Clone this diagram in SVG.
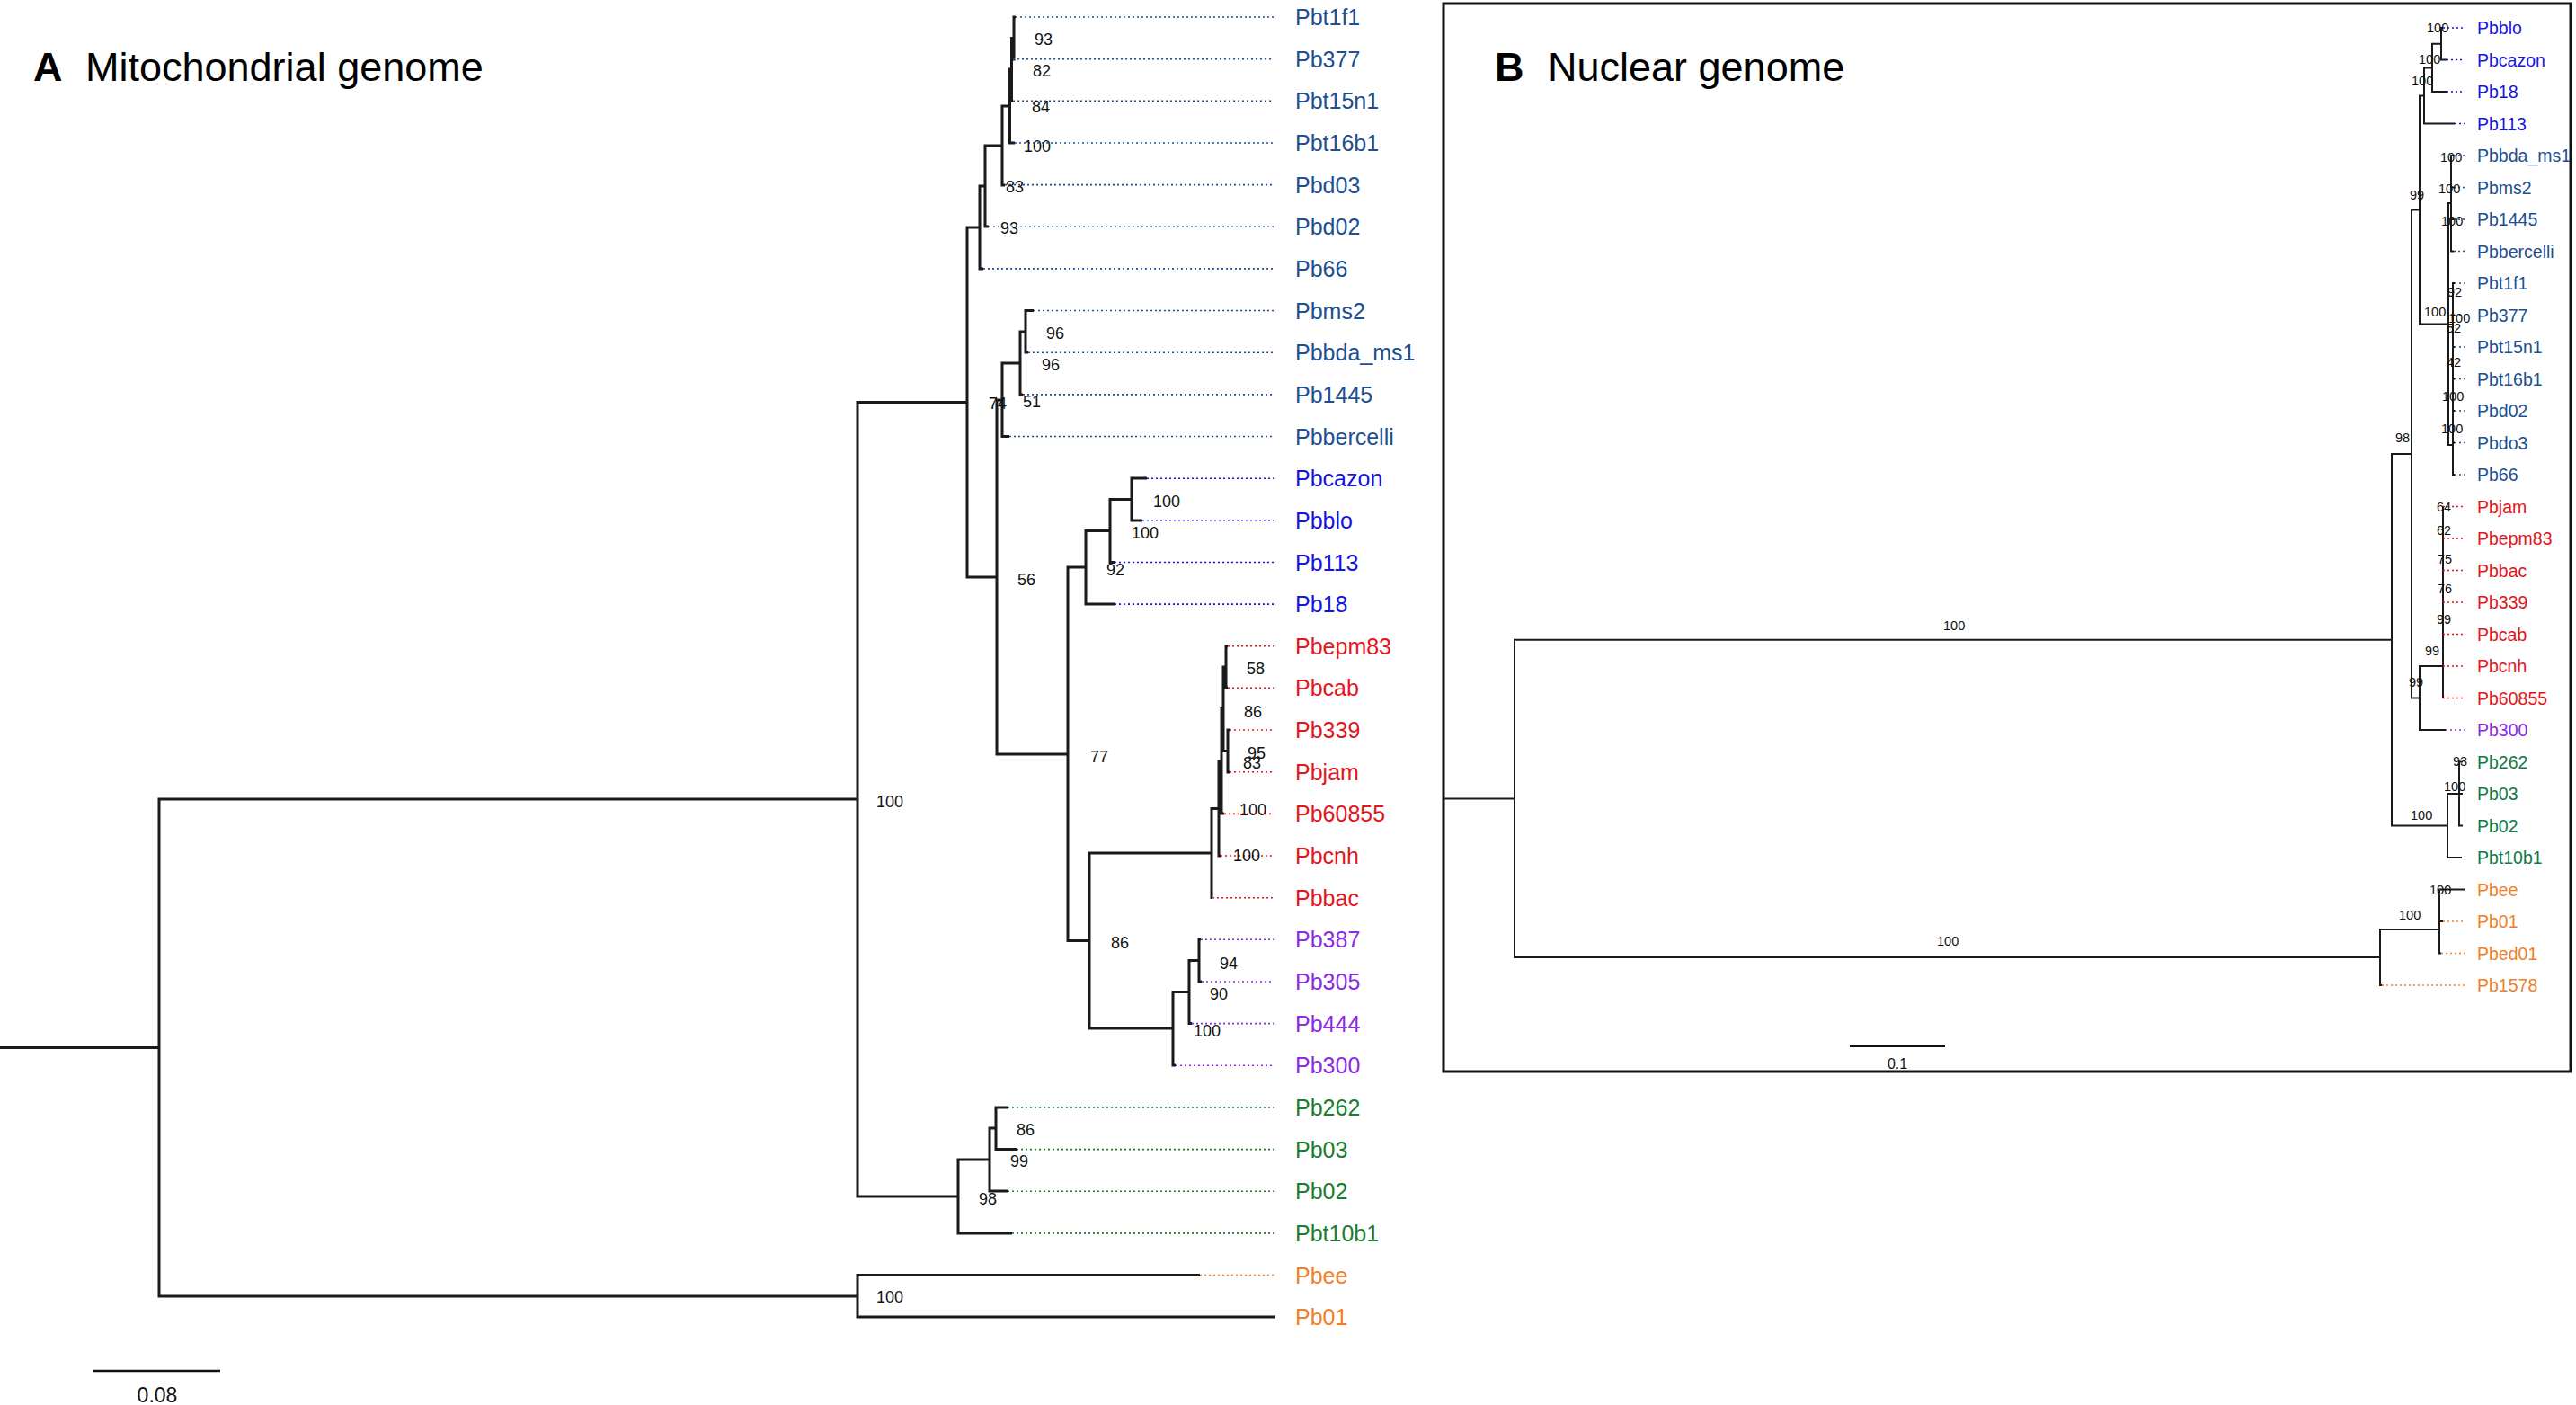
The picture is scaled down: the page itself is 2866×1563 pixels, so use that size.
<svg xmlns="http://www.w3.org/2000/svg" width="2866" height="1563" viewBox="0 0 2866 1563">
<style>
.t{fill:none;stroke:#1a1a1a;stroke-width:3;stroke-linejoin:miter}
.tb{fill:none;stroke:#1a1a1a;stroke-width:2}
.d{fill:none;stroke-width:1.6;stroke-dasharray:2 3}
.lab{font-family:"Liberation Sans",Arial,sans-serif;font-size:25px}
.labB{font-family:"Liberation Sans",Arial,sans-serif;font-size:19.5px}
.bs{font-family:"Liberation Sans",Arial,sans-serif;font-size:18px;fill:#111}
.bsB{font-family:"Liberation Sans",Arial,sans-serif;font-size:14.5px;fill:#111}
.title{font-family:"Liberation Sans",Arial,sans-serif;font-size:45px;fill:#000}
.f1{fill:#1d4f92}.f2{fill:#1515e0}.f3{fill:#e3161d}.f4{fill:#8a2be2}.f5{fill:#1a7d2e}.f5b{fill:#0f7a48}.f6{fill:#f07f2a}
.s1{stroke:#1d4f92}.s2{stroke:#1515e0}.s3{stroke:#e3161d}.s4{stroke:#8a2be2}.s5{stroke:#1a7d2e}.s6{stroke:#f07f2a}
</style>
<rect width="2866" height="1563" fill="#fff"/>

<!-- titles -->
<g id="titleA"><text class="title" x="37" y="90" font-weight="bold">A</text><text class="title" x="95" y="90">Mitochondrial genome</text></g>
<g id="titleB"><text class="title" x="1663" y="90" font-weight="bold">B</text><text class="title" x="1722" y="90">Nuclear genome</text></g>

<!-- panel B frame -->
<rect id="frameB" x="1606" y="4" width="1254" height="1188" fill="none" stroke="#111" stroke-width="3"/>

<g id="connectors">
<!-- Panel A tree -->
<path class="t" d="M1130 19 H1128 V66 H1127
M1128 42.5 H1125.5 V112 H1127
M1125.5 77 H1123.5 V159 H1129
M1123.5 118 H1115 V206 H1118
M1115 162 H1096 V252 H1100
M1096 207 H1090 V299 H1094
M1150 345.5 H1141 V392 H1144
M1141 369 H1135 V439 H1138
M1135 404 H1115 V485.5 H1123
M1276 532 H1259 V579 H1271
M1259 555.5 H1235 V625.5 H1240
M1235 590.5 H1208 V672 H1240
M1366 719 H1364 V765 H1366
M1368 812 H1366 V859 H1368
M1364 742 H1361 V835.5 H1366
M1361 788.5 H1359 V905 H1362
M1359 847 H1356 V952 H1358
M1356 899.5 H1348 V998.5 H1349
M1336 1045 H1334 V1092 H1337
M1334 1068.5 H1323 V1138.6 H1326
M1323 1103.5 H1305 V1185 H1308
M1348 949 H1212 V1144 H1305
M1208 631 H1188 V1046.5 H1212
M1115 445 H1109 V839 H1188
M1090 253 H1076 V642 H1109
M1121 1232 H1108 V1278.5 H1131
M1108 1255 H1101 V1325 H1121
M1101 1290 H1066 V1372 H1126
M1076 447.5 H954 V1331 H1066
M1335 1418.5 H954 V1465 H1419
M954 889 H177 V1442 H954
M0 1165.5 H177"/>
<!-- Panel A dotted leaders -->
<g class="d">
<path class="s1" d="M1130 19H1417M1127 65.6H1417M1127 112.3H1417M1129 159H1417M1118 205.6H1417M1100 252.3H1417M1094 298.9H1417M1150 345.5H1417M1144 392.2H1417M1138 438.9H1417M1123 485.5H1417"/>
<path class="s2" d="M1276 532.2H1417M1271 578.8H1417M1240 625.5H1417M1240 672.1H1417"/>
<path class="s3" d="M1366 718.8H1417M1366 765.4H1417M1368 812H1417M1368 858.7H1417M1362 905.4H1417M1358 952H1417M1349 998.7H1417"/>
<path class="s4" d="M1336 1045.3H1417M1337 1092H1417M1326 1138.6H1417M1308 1185.3H1417"/>
<path class="s5" d="M1121 1231.9H1417M1131 1278.6H1417M1121 1325.2H1417M1126 1371.9H1417"/>
<path class="s6" d="M1335 1418.5H1417"/>
</g>

<!-- Panel B tree -->
<path class="tb" d="M2718 31 H2716 V66.5 H2722
M2716 48.75 H2706 V102 H2722
M2706 75.4 H2697 V137.5 H2731
M2730 173 H2727 V279.5 H2730 M2727 208.5 H2730 M2727 244 H2730
M2731 315 H2729 V528 H2731 M2729 350.5 H2731 M2729 386 H2731 M2729 421.5 H2731 M2729 457 H2731 M2729 492.5 H2731
M2727 226 H2724 V495 H2729
M2697 106.5 H2692 V360.5 H2724
M2718 563.5 V776.5
M2718 741 H2692 V812 H2721
M2692 233.5 H2683 V776.5 H2692
M2740 847.5 H2736 V918.5 H2740 M2736 883 H2740
M2736 883 H2723 V954 H2739
M2683 505 H2661 V918.5 H2723
M2742 989.5 H2714 V1060.5 H2716 M2714 1025 H2718
M2714 1034 H2648 V1096 H2650
M2661 711.75 H1685 V1065 H2648
M1606 888.4 H1685"/>
<g class="d" style="stroke-width:1.3">
<path class="s2" d="M2718 31H2742M2722 66.5H2742M2722 102H2742M2731 137.5H2742"/>
<path class="s1" d="M2730 173H2742M2730 208.5H2742M2730 244H2742M2730 279.5H2742M2731 315H2742M2731 350.5H2742M2731 386H2742M2731 421.5H2742M2731 457H2742M2731 492.5H2742M2731 528H2742"/>
<path class="s3" d="M2718 563.5H2742M2718 599H2742M2718 634.5H2742M2718 670H2742M2718 705.5H2742M2718 741H2742M2718 776.5H2742"/>
<path class="s4" d="M2721 812H2742"/>
<path class="s6" d="M2718 1025H2742M2716 1060.5H2742M2650 1096H2742"/>
</g>
</g>

<!-- Panel A tip labels -->
<g class="lab">
<g id="A_Pbt1f1"><text class="f1" x="1441" y="28">Pbt1f1</text></g>
<g id="A_Pb377"><text class="f1" x="1441" y="74.6">Pb377</text></g>
<g id="A_Pbt15n1"><text class="f1" x="1441" y="121.3">Pbt15n1</text></g>
<g id="A_Pbt16b1"><text class="f1" x="1441" y="168">Pbt16b1</text></g>
<g id="A_Pbd03"><text class="f1" x="1441" y="214.6">Pbd03</text></g>
<g id="A_Pbd02"><text class="f1" x="1441" y="261.3">Pbd02</text></g>
<g id="A_Pb66"><text class="f1" x="1441" y="307.9">Pb66</text></g>
<g id="A_Pbms2"><text class="f1" x="1441" y="354.5">Pbms2</text></g>
<g id="A_Pbbda_ms1"><text class="f1" x="1441" y="401.2">Pbbda_ms1</text></g>
<g id="A_Pb1445"><text class="f1" x="1441" y="447.9">Pb1445</text></g>
<g id="A_Pbbercelli"><text class="f1" x="1441" y="494.5">Pbbercelli</text></g>
<g id="A_Pbcazon"><text class="f2" x="1441" y="541.2">Pbcazon</text></g>
<g id="A_Pbblo"><text class="f2" x="1441" y="587.8">Pbblo</text></g>
<g id="A_Pb113"><text class="f2" x="1441" y="634.5">Pb113</text></g>
<g id="A_Pb18"><text class="f2" x="1441" y="681.1">Pb18</text></g>
<g id="A_Pbepm83"><text class="f3" x="1441" y="727.8">Pbepm83</text></g>
<g id="A_Pbcab"><text class="f3" x="1441" y="774.4">Pbcab</text></g>
<g id="A_Pb339"><text class="f3" x="1441" y="821">Pb339</text></g>
<g id="A_Pbjam"><text class="f3" x="1441" y="867.7">Pbjam</text></g>
<g id="A_Pb60855"><text class="f3" x="1441" y="914.4">Pb60855</text></g>
<g id="A_Pbcnh"><text class="f3" x="1441" y="961">Pbcnh</text></g>
<g id="A_Pbbac"><text class="f3" x="1441" y="1007.7">Pbbac</text></g>
<g id="A_Pb387"><text class="f4" x="1441" y="1054.3">Pb387</text></g>
<g id="A_Pb305"><text class="f4" x="1441" y="1101">Pb305</text></g>
<g id="A_Pb444"><text class="f4" x="1441" y="1147.6">Pb444</text></g>
<g id="A_Pb300"><text class="f4" x="1441" y="1194.3">Pb300</text></g>
<g id="A_Pb262"><text class="f5" x="1441" y="1240.9">Pb262</text></g>
<g id="A_Pb03"><text class="f5" x="1441" y="1287.6">Pb03</text></g>
<g id="A_Pb02"><text class="f5" x="1441" y="1334.2">Pb02</text></g>
<g id="A_Pbt10b1"><text class="f5" x="1441" y="1380.9">Pbt10b1</text></g>
<g id="A_Pbee"><text class="f6" x="1441" y="1427.5">Pbee</text></g>
<g id="A_Pb01"><text class="f6" x="1441" y="1474.2">Pb01</text></g>
</g>

<!-- Panel B tip labels -->
<g class="labB">
<g id="B_Pbblo"><text class="f2" x="2756" y="38">Pbblo</text></g>
<g id="B_Pbcazon"><text class="f2" x="2756" y="73.5">Pbcazon</text></g>
<g id="B_Pb18"><text class="f2" x="2756" y="109">Pb18</text></g>
<g id="B_Pb113"><text class="f2" x="2756" y="144.5">Pb113</text></g>
<g id="B_Pbbda_ms1"><text class="f1" x="2756" y="180">Pbbda_ms1</text></g>
<g id="B_Pbms2"><text class="f1" x="2756" y="215.5">Pbms2</text></g>
<g id="B_Pb1445"><text class="f1" x="2756" y="251">Pb1445</text></g>
<g id="B_Pbbercelli"><text class="f1" x="2756" y="286.5">Pbbercelli</text></g>
<g id="B_Pbt1f1"><text class="f1" x="2756" y="322">Pbt1f1</text></g>
<g id="B_Pb377"><text class="f1" x="2756" y="357.5">Pb377</text></g>
<g id="B_Pbt15n1"><text class="f1" x="2756" y="393">Pbt15n1</text></g>
<g id="B_Pbt16b1"><text class="f1" x="2756" y="428.5">Pbt16b1</text></g>
<g id="B_Pbd02"><text class="f1" x="2756" y="464">Pbd02</text></g>
<g id="B_Pbdo3"><text class="f1" x="2756" y="499.5">Pbdo3</text></g>
<g id="B_Pb66"><text class="f1" x="2756" y="535">Pb66</text></g>
<g id="B_Pbjam"><text class="f3" x="2756" y="570.5">Pbjam</text></g>
<g id="B_Pbepm83"><text class="f3" x="2756" y="606">Pbepm83</text></g>
<g id="B_Pbbac"><text class="f3" x="2756" y="641.5">Pbbac</text></g>
<g id="B_Pb339"><text class="f3" x="2756" y="677">Pb339</text></g>
<g id="B_Pbcab"><text class="f3" x="2756" y="712.5">Pbcab</text></g>
<g id="B_Pbcnh"><text class="f3" x="2756" y="748">Pbcnh</text></g>
<g id="B_Pb60855"><text class="f3" x="2756" y="783.5">Pb60855</text></g>
<g id="B_Pb300"><text class="f4" x="2756" y="819">Pb300</text></g>
<g id="B_Pb262"><text class="f5b" x="2756" y="854.5">Pb262</text></g>
<g id="B_Pb03"><text class="f5b" x="2756" y="890">Pb03</text></g>
<g id="B_Pb02"><text class="f5b" x="2756" y="925.5">Pb02</text></g>
<g id="B_Pbt10b1"><text class="f5b" x="2756" y="961">Pbt10b1</text></g>
<g id="B_Pbee"><text class="f6" x="2756" y="996.5">Pbee</text></g>
<g id="B_Pb01"><text class="f6" x="2756" y="1032">Pb01</text></g>
<g id="B_Pbed01"><text class="f6" x="2756" y="1067.5">Pbed01</text></g>
<g id="B_Pb1578"><text class="f6" x="2756" y="1103">Pb1578</text></g>
</g>

<!-- bootstrap values A -->
<g id="bootstrapA" class="bs">
<text x="1151" y="49.5">93</text><text x="1149" y="84.5">82</text><text x="1148" y="124.5">84</text>
<text x="1139" y="168.5">100</text><text x="1119" y="213.5">83</text><text x="1113" y="259.5">93</text>
<text x="1164" y="376.5">96</text><text x="1159" y="411.5">96</text><text x="1138" y="452.5">51</text>
<text x="1100" y="454.5">74</text><text x="1132" y="650.5">56</text>
<text x="1283" y="563.5">100</text><text x="1259" y="598.5">100</text><text x="1231" y="639.5">92</text>
<text x="1213" y="847.5">77</text>
<text x="1387" y="749.5">58</text><text x="1384" y="797.5">86</text><text x="1388" y="843.5">95</text>
<text x="1383" y="854.5">83</text><text x="1379" y="906.5">100</text><text x="1372" y="957.5">100</text>
<text x="1236" y="1054.5">86</text><text x="1357" y="1077.5">94</text><text x="1346" y="1111.5">90</text>
<text x="1328" y="1152.5">100</text>
<text x="1131" y="1262.5">86</text><text x="1124" y="1297.5">99</text><text x="1089" y="1339.5">98</text>
<text x="975" y="897.5">100</text><text x="975" y="1448.5">100</text>
</g>

<!-- bootstrap values B -->
<g id="bootstrapB" class="bsB">
<text x="2700" y="36">100</text><text x="2691" y="71">100</text><text x="2683" y="95">100</text>
<text x="2681" y="222">99</text>
<text x="2715" y="180">100</text><text x="2713" y="215">100</text><text x="2716" y="251">100</text>
<text x="2723" y="330">92</text><text x="2697" y="352">100</text><text x="2724" y="359">100</text>
<text x="2722" y="370">52</text><text x="2722" y="408">42</text><text x="2717" y="446">100</text>
<text x="2716" y="482">100</text><text x="2665" y="492">98</text>
<text x="2711" y="569">64</text><text x="2711" y="595">62</text><text x="2712" y="627">75</text>
<text x="2712" y="660">76</text><text x="2711" y="694">99</text><text x="2698" y="729">99</text>
<text x="2680" y="764">99</text>
<text x="2729" y="852">93</text><text x="2719" y="880">100</text><text x="2682" y="912">100</text>
<text x="2703" y="995">100</text><text x="2669" y="1023">100</text>
<text x="2162" y="701">100</text><text x="2155" y="1052">100</text>
</g>

<!-- scale bars -->
<g id="scaleA">
<line x1="104" y1="1525" x2="245" y2="1525" stroke="#111" stroke-width="2.5"/>
<text x="175" y="1560" text-anchor="middle" font-family="Liberation Sans, Arial, sans-serif" font-size="23" fill="#111">0.08</text>
</g>
<g id="scaleB">
<line x1="2058" y1="1164" x2="2164" y2="1164" stroke="#111" stroke-width="2"/>
<text x="2111" y="1189" text-anchor="middle" font-family="Liberation Sans, Arial, sans-serif" font-size="16" fill="#111">0.1</text>
</g>
</svg>
